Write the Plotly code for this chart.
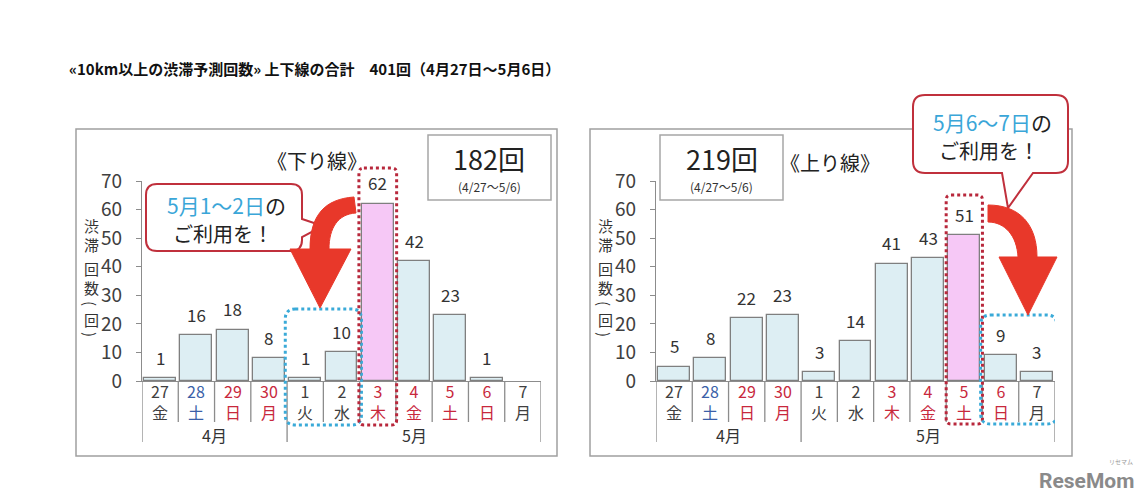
import plotly.graph_objects as go

# ---------------- data ----------------
days = ["27", "28", "29", "30", "1", "2", "3", "4", "5", "6", "7"]
weekdays = ["金", "土", "日", "月", "火", "水", "木", "金", "土", "日", "月"]
day_colors = ["#404040", "#3b5fa8", "#c8283c", "#c8283c", "#404040", "#404040",
              "#c8283c", "#c8283c", "#c8283c", "#c8283c", "#404040"]
months = ["4月", "5月"]
month_spans = [(0, 3), (4, 10)]
down_values = [1, 16, 18, 8, 1, 10, 62, 42, 23, 1, None]
up_values = [5, 8, 22, 23, 3, 14, 41, 43, 51, 9, 3]
down_peak = 6
up_peak = 8
down_total = "182回"
up_total = "219回"
period = "(4/27～5/6)"
y_ticks = [0, 10, 20, 30, 40, 50, 60, 70]
title_text = "«10km以上の渋滞予測回数» 上下線の合計　401回（4月27日～5月6日）"

# ---------------- helpers ----------------
W, H = 1146, 503
FONT = "Noto Sans CJK JP"
GRAY = "#8c8c8c"
TXT = "#333333"
RED_LINE = "#c0303c"
BLUE_TXT = "#3aa6d8"
ARROW = "#e8382a"


def X(px):
    return px / W


def Y(py):
    return 1 - py / H


def ann(x, y, text, size, color=TXT, xref="paper", yref="paper", family=FONT, **kw):
    d = dict(x=x, y=y, xref=xref, yref=yref, text=text, showarrow=False,
             xanchor="center", yanchor="middle", borderpad=0,
             font=dict(family=family, size=size, color=color))
    d.update(kw)
    return d


def P(pts_cmds):
    out = []
    for cmd, pts in pts_cmds:
        s = cmd
        if pts:
            s += " " + " ".join(f"{X(a):.5f},{Y(b):.5f}" for a, b in pts)
        out.append(s)
    return " ".join(out)


def rounded_rect_px(x0, y0, x1, y1, r, tail=None):
    cmds = [("M", [(x0 + r, y0)]), ("L", [(x1 - r, y0)]), ("Q", [(x1, y0), (x1, y0 + r)])]
    if tail and tail[0] == "right":
        cmds += [("L", [(x1, tail[1])]), ("L", [tail[2]]), ("L", [(x1, tail[3])])]
    cmds += [("L", [(x1, y1 - r)]), ("Q", [(x1, y1), (x1 - r, y1)])]
    if tail and tail[0] == "bottom":
        cmds += [("L", [(tail[1], y1)]), ("L", [tail[2]]), ("L", [(tail[3], y1)])]
    cmds += [("L", [(x0 + r, y1)]), ("Q", [(x0, y1), (x0, y1 - r)]),
             ("L", [(x0, y0 + r)]), ("Q", [(x0, y0), (x0 + r, y0)]), ("Z", [])]
    return P(cmds)


Y0_PX, Y70_PX = 381, 181
panels = [
    dict(values=down_values, peak=down_peak, xa="x", ya="y", frame=(76, 129, 557, 456)),
    dict(values=up_values, peak=up_peak, xa="x2", ya="y2", frame=(590, 129, 1072, 456)),
]
CAT_PX = (541 - 142) / 11

fig = go.Figure()
shapes = []
annotations = []

for p in panels:
    n = len(p["values"])
    colors = ["#f6c8f6" if i == p["peak"] else "#ddeef3" for i in range(n)]
    fig.add_trace(go.Bar(
        x=list(range(n)), y=p["values"], width=0.88,
        marker=dict(color=colors, line=dict(color="#7f7f7f", width=1.3)),
        xaxis=p["xa"], yaxis=p["ya"], showlegend=False, hoverinfo="skip"))
    fx0, fy0, fx1, fy1 = p["frame"]
    shapes.append(dict(type="rect", xref="paper", yref="paper", layer="below",
                       x0=X(fx0), x1=X(fx1), y0=Y(fy1), y1=Y(fy0),
                       line=dict(color="#a0a0a0", width=1.5), fillcolor="white"))
    xr = p["xa"]
    for i, v in enumerate(p["values"]):
        if v is None:
            continue
        annotations.append(ann(i, v, str(v), 17, xref=xr, yref=p["ya"], yshift=21))
    for i in range(n):
        annotations.append(ann(i, Y(401), f"{days[i]}<br>{weekdays[i]}", 16,
                               day_colors[i], xref=xr))
    for m, (a, b) in zip(months, month_spans):
        annotations.append(ann((a + b) / 2, Y(435), m, 16, xref=xr))
    month_bounds = [month_spans[0][0] - 0.5] + [b + 0.5 for _, b in month_spans]
    for k in range(n + 1):
        xb = k - 0.5
        long = xb in month_bounds
        shapes.append(dict(type="line", xref=xr, yref="paper", x0=xb, x1=xb,
                           y0=Y(381), y1=Y(442 if long else 422),
                           line=dict(color=GRAY, width=1.3)))

# y-axis titles (vertical writing): (char, y px, rotation)
vt_chars = [("渋", 226, 0), ("滞", 244, 0), ("回", 268, 0), ("数", 287, 0),
            ("(", 303, 90), ("回", 319, 0), (")", 334, 90)]
for xpx in (91, 605):
    for c, yy, ang in vt_chars:
        annotations.append(ann(X(xpx), Y(yy), c, 15, textangle=ang))

# total boxes
for (bx0, bx1, txt) in [(428, 551, down_total), (660, 783, up_total)]:
    shapes.append(dict(type="rect", xref="paper", yref="paper",
                       x0=X(bx0), x1=X(bx1), y0=Y(200), y1=Y(135),
                       line=dict(color="#a6a6a6", width=1.5), fillcolor="white"))
    cx = (bx0 + bx1) / 2
    annotations.append(ann(X(cx), Y(158), txt, 27, "#222222"))
    annotations.append(ann(X(cx), Y(186), period, 12, "#333333"))

annotations.append(ann(X(317), Y(160), "《下り線》", 20, "#222222"))
annotations.append(ann(X(830), Y(162), "《上り線》", 20, "#222222"))


def dotted_box(xr, i0, i1, ytop, ybot, r, color, pad=0.0):
    rx = r / CAT_PX
    x0 = i0 - 0.5 - pad
    x1 = i1 + 0.5 + pad
    y0, y1 = Y(ytop), Y(ybot)
    ry = r / H
    path = (f"M {x0 + rx},{y0} L {x1 - rx},{y0} Q {x1},{y0} {x1},{y0 - ry} "
            f"L {x1},{y1 + ry} Q {x1},{y1} {x1 - rx},{y1} L {x0 + rx},{y1} "
            f"Q {x0},{y1} {x0},{y1 + ry} L {x0},{y0 - ry} Q {x0},{y0} {x0 + rx},{y0} Z")
    return dict(type="path", xref=xr, yref="paper", path=path,
                line=dict(color=color, width=3, dash="dot"))


shapes.append(dotted_box("x", 4, 5, 309, 425, 10, "#3aaad8", pad=0.05))
shapes.append(dotted_box("x", down_peak, down_peak, 168, 425, 5, "#b8283c", pad=0.02))
shapes.append(dotted_box("x2", up_peak, up_peak, 195, 424, 5, "#b8283c", pad=0.0))
shapes.append(dotted_box("x2", 9, 10, 315, 424, 10, "#3aaad8", pad=0.05))

# callouts
shapes.append(dict(type="path", xref="paper", yref="paper",
                   path=rounded_rect_px(146, 184, 302, 251, 11, ("right", 219, (323, 226), 237)),
                   line=dict(color=RED_LINE, width=2), fillcolor="white"))
shapes.append(dict(type="path", xref="paper", yref="paper",
                   path=rounded_rect_px(913, 95, 1068, 173, 12, ("bottom", 1033, (1008, 208), 1002)),
                   line=dict(color=RED_LINE, width=2), fillcolor="white"))

# arrows
left_arrow = P([("M", [(354, 197)]), ("C", [(325, 199), (310, 215), (310, 249)]),
                ("L", [(290, 249)]), ("L", [(320, 308)]), ("L", [(351, 249)]),
                ("L", [(329, 249)]), ("C", [(329, 228), (338, 214), (356, 213)]), ("Z", [])])
right_arrow = P([("M", [(988, 205)]), ("C", [(1020, 205), (1037, 225), (1037, 257)]),
                 ("L", [(1057, 257)]), ("L", [(1028, 315)]), ("L", [(999, 257)]),
                 ("L", [(1018, 257)]), ("C", [(1017, 236), (1005, 222), (988, 222)]), ("Z", [])])
for pth in (left_arrow, right_arrow):
    shapes.append(dict(type="path", xref="paper", yref="paper", path=pth,
                       line=dict(color=ARROW, width=1), fillcolor=ARROW))

for (cx, y1, y2, rng) in [(226, 205, 233, "5月1～2日"), (992, 122, 151, "5月6～7日")]:
    annotations.append(ann(X(cx), Y(y1), f"<span style='color:{BLUE_TXT}'>{rng}</span>の",
                           21, "#222222"))
    annotations.append(ann(X(cx - 3), Y(y2), "ご利用を！", 20, "#222222"))

annotations.append(ann(X(68), Y(69), f"<b>{title_text}</b>", 15, "#111111", xanchor="left"))

annotations.append(ann(X(1086), Y(481), "<b>ReseMom</b>", 21, "#8a8a8a", family="Roboto"))
annotations.append(ann(X(1121), Y(461), "リセマム", 6, "#999999"))

axis_common_x = dict(range=[-0.5, 10.5], showline=True, linecolor=GRAY, linewidth=1.3,
                     showticklabels=False, ticks="", showgrid=False, zeroline=False,
                     fixedrange=True, automargin=False)
axis_common_y = dict(range=[0, 70], tickvals=y_ticks, ticks="outside", ticklen=5,
                     tickcolor=GRAY, tickwidth=1.3, showline=True, linecolor=GRAY,
                     linewidth=1.3, showgrid=False, zeroline=False, fixedrange=True,
                     automargin=False,
                     tickfont=dict(family=FONT, size=19, color="#404040"),
                     ticklabelstandoff=10,
                     domain=[Y(Y0_PX), Y(Y70_PX)])

fig.update_layout(
    width=W, height=H, autosize=False,
    margin=dict(l=0, r=0, t=0, b=0, pad=0),
    paper_bgcolor="white", plot_bgcolor="rgba(0,0,0,0)",
    bargap=0, showlegend=False,
    xaxis=dict(domain=[X(142), X(541)], anchor="y", **axis_common_x),
    yaxis=dict(anchor="x", **axis_common_y),
    xaxis2=dict(domain=[X(656), X(1055)], anchor="y2", **axis_common_x),
    yaxis2=dict(anchor="x2", **axis_common_y),
    shapes=shapes, annotations=annotations,
)

fig.write_html("out.html", config={"displayModeBar": False},
               post_script="document.body.style.margin='0px';")
